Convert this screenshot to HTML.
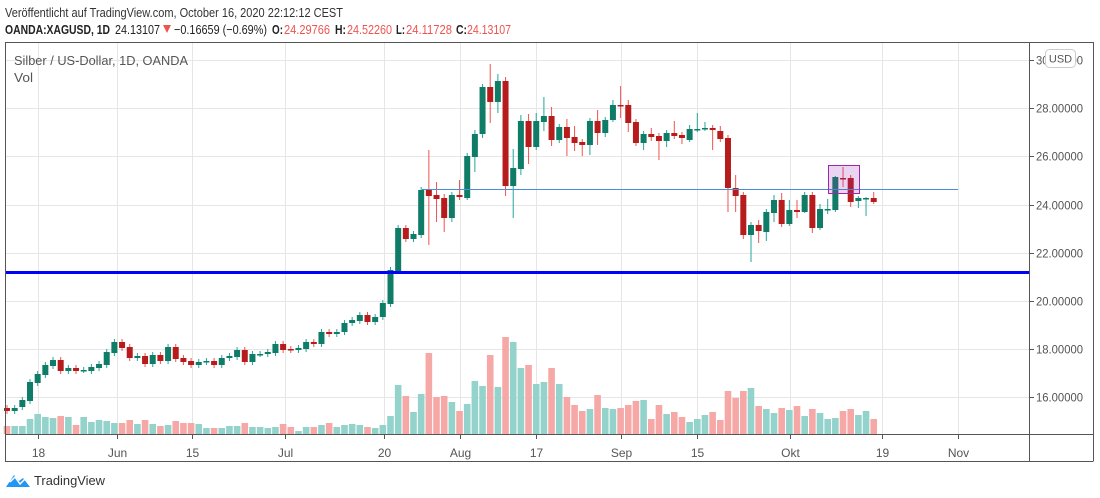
<!DOCTYPE html>
<html><head><meta charset="utf-8">
<style>
html,body{margin:0;padding:0;background:#fff;width:1100px;height:498px;overflow:hidden}
svg{display:block;font-family:"Liberation Sans",sans-serif}
</style></head>
<body>
<svg id="s" width="1100" height="498" viewBox="0 0 1100 498" xmlns="http://www.w3.org/2000/svg">
<rect width="1100" height="498" fill="#fff"/>
<g id="grid" stroke="#e6e6e6" stroke-width="1"></g>
<g id="vol"></g>
<g id="candles"></g>
<line x1="422" y1="189.5" x2="958" y2="189.5" stroke="#4a8fd8" stroke-width="1"/>
<line x1="5" y1="272.5" x2="1029" y2="272.5" stroke="#0000ff" stroke-width="3"/>
<rect x="828.5" y="165.5" width="31" height="28" fill="rgba(156,39,176,0.2)" stroke="#9c27b0" stroke-width="1"/>
<g stroke="#555" stroke-width="1" fill="none">
<line x1="5.5" y1="42" x2="5.5" y2="461.5"/>
<line x1="5" y1="42.5" x2="1093" y2="42.5"/>
<line x1="1029.5" y1="42" x2="1029.5" y2="461.5"/>
<line x1="1093.5" y1="42" x2="1093.5" y2="461.5"/>
<line x1="5" y1="434.5" x2="1093" y2="434.5"/>
<line x1="5" y1="461.5" x2="1093" y2="461.5"/>
</g>
<g id="axis" font-size="12" fill="#555"></g>
<text x="14" y="65" font-size="13" fill="#555" textLength="174" lengthAdjust="spacingAndGlyphs">Silber / US-Dollar, 1D, OANDA</text>
<text x="14" y="82" font-size="13" fill="#555" textLength="19" lengthAdjust="spacingAndGlyphs">Vol</text>
<rect x="1045.5" y="49.5" width="30" height="18" rx="4" fill="#fff" stroke="#ccc"/>
<text x="1060.5" y="62.5" font-size="11" fill="#555" text-anchor="middle">USD</text>
<text x="5" y="17" font-size="13" fill="#333" textLength="338" lengthAdjust="spacingAndGlyphs">Veröffentlicht auf TradingView.com, October 16, 2020 22:12:12 CEST</text>
<g font-size="13">
<text x="5" y="34" font-weight="bold" fill="#222" textLength="105" lengthAdjust="spacingAndGlyphs">OANDA:XAGUSD, 1D</text>
<text x="115" y="34" fill="#222" textLength="45" lengthAdjust="spacingAndGlyphs">24.13107</text>
<polygon points="163,25 171,25 167,33" fill="#ef5350"/>
<text x="174" y="34" fill="#222" textLength="93" lengthAdjust="spacingAndGlyphs">−0.16659 (−0.69%)</text>
<text x="272" y="34" font-weight="bold" fill="#222" textLength="11" lengthAdjust="spacingAndGlyphs">O:</text>
<text x="284" y="34" fill="#ef5350" textLength="46" lengthAdjust="spacingAndGlyphs">24.29766</text>
<text x="335" y="34" font-weight="bold" fill="#222" textLength="11" lengthAdjust="spacingAndGlyphs">H:</text>
<text x="347" y="34" fill="#ef5350" textLength="45" lengthAdjust="spacingAndGlyphs">24.52260</text>
<text x="396" y="34" font-weight="bold" fill="#222" textLength="9" lengthAdjust="spacingAndGlyphs">L:</text>
<text x="406" y="34" fill="#ef5350" textLength="46" lengthAdjust="spacingAndGlyphs">24.11728</text>
<text x="456" y="34" font-weight="bold" fill="#222" textLength="11" lengthAdjust="spacingAndGlyphs">C:</text>
<text x="467" y="34" fill="#ef5350" textLength="44" lengthAdjust="spacingAndGlyphs">24.13107</text>
</g>
<path d="M6,487 L14,475 L19,481 L23,478 L30,487 Z" fill="#2196f3"/>
<path d="M10,482 L15,477 L20,484 L25,479" stroke="#fff" stroke-width="1.5" fill="none"/>
<text x="34" y="485" font-size="13" fill="#333" textLength="71" lengthAdjust="spacingAndGlyphs">TradingView</text>
</svg>
<script>
(function(){
var NS="http://www.w3.org/2000/svg";
function el(p,t,a){var e=document.createElementNS(NS,t);for(var k in a)e.setAttribute(k,a[k]);p.appendChild(e);return e;}
var grid=document.getElementById('grid'),vol=document.getElementById('vol'),cg=document.getElementById('candles'),ax=document.getElementById('axis');
var xt=[[38,'18'],[117,'Jun'],[192,'15'],[285,'Jul'],[384,'20'],[460,'Aug'],[536,'17'],[621,'Sep'],[697,'15'],[790,'Okt'],[882,'19'],[958,'Nov']];
xt.forEach(function(t){el(grid,'line',{x1:t[0]+.5,y1:43,x2:t[0]+.5,y2:434});
el(ax,'line',{x1:t[0]+.5,y1:435,x2:t[0]+.5,y2:439,stroke:'#555'});
var tx=el(ax,'text',{x:t[0]+.5,y:457,'text-anchor':'middle'});tx.textContent=t[1];});
var yt=[[60,'30.00000'],[108,'28.00000'],[156,'26.00000'],[205,'24.00000'],[253,'22.00000'],[301,'20.00000'],[349,'18.00000'],[397,'16.00000']];
yt.forEach(function(t){el(grid,'line',{x1:6,y1:t[0]+.5,x2:1029,y2:t[0]+.5});
el(ax,'line',{x1:1030,y1:t[0]+.5,x2:1034,y2:t[0]+.5,stroke:'#555'});
var tx=el(ax,'text',{x:1036,y:t[0]+4.5,textLength:47,lengthAdjust:'spacingAndGlyphs'});tx.textContent=t[1];});
var C=[[408,411],[411,408],[407,400],[401,382],[383,374],[375,365],[366,360],[360,371],[371,368],[368,371],[370,370],[371,367],[368,364],[365,352],[353,342],[342,348],[347,358],[358,356],[356,364],[364,355],[355,361],[361,347],[347,359],[358,362],[361,365],[365,362],[362,361],[361,365],[365,358],[358,356],[357,350],[350,362],[362,354],[354,354],[354,352],[353,344],[344,350],[349,350],[350,348],[349,342],[342,344],[344,332],[332,334],[334,332],[332,323],[323,320],[321,315],[315,322],[322,317],[317,303],[304,270],
[271,228],[228,239],[239,234],[235,190],[190,196,150,245],[195,199,182,222],[198,218,194,232],[218,195,192,222],[195,197,180,200],[198,156,153,200],[157,134,130,172],[134,87,84,138],[87,102,64,123],[102,81,74,113],[81,186,77,196],[186,168,149,218],[169,121,115,175],[121,147,114,164],[147,121,113,150],[122,116,97,131],[116,140,107,146],[140,127,124,143],[127,138,119,156],[137,143,126,151],[142,145,139,156],[145,121,118,155],[121,133,110,145],[133,120,117,137],[120,105,100,122],[105,105,86,118],[105,123,100,132],[122,143,119,146],[143,134,131,150],[134,137,128,141],[136,141,133,160],[141,133,130,147],[133,136,121,139],[135,138,132,144],[140,129,125,142],[129,129,113,132],[128,128,122,131],[128,130,125,150],[131,139,126,142],[138,188,135,212],[188,196,175,212],[195,235,192,239],[235,225,222,262],[225,231,220,243],[232,212,209,241],[213,200,195,222],[200,224,193,227],[224,210,200,226],[210,212,200,218],[212,195,192,213],[195,228,192,233],[228,209,204,230],[210,209,199,214],[210,177,176,212],[178,179,167,187],[178,202,175,207],[201,198,196,208],[198,198,197,216],[198,202,192,204]];
var V=[426,426,426,419,414,417,418,416,417,425,417,422,420,421,423,423,420,424,420,424,426,425,421,423,423,424,428,428,428,426,426,423,427,427,428,427,424,427,431,427,427,425,423,427,425,424,425,427,428,425,416,
385,396,412,394,353,397,396,402,411,404,381,386,355,387,337,342,368,365,384,382,368,384,397,405,411,409,395,408,409,408,405,401,400,419,405,414,412,417,422,419,415,412,420,391,398,391,388,406,409,413,408,410,406,416,409,413,419,418,411,409,415,411,419];
for(var i=0;i<C.length;i++){
var c=C[i],x=7+7.67*i,o=c[0],cl=c[1];
var up=cl<=o; if(i==80)up=false;
var bt=Math.min(o,cl),bb=Math.max(o,cl);
var hi=(c.length>2)?c[2]:bt-3,lo=(c.length>3)?c[3]:bb+3;
var body=up?'#0e7c66':'#b71c1c',wick=up?'#26a69a':'#ef5350';
el(cg,'line',{x1:x,y1:hi,x2:x,y2:lo,stroke:wick,'stroke-width':1});
el(cg,'rect',{x:x-3,y:bt,width:6,height:Math.max(bb-bt,1.5),fill:body});
var vy=V[i];
el(vol,'rect',{x:x-3.3,y:vy,width:6.6,height:434-vy,fill:up?'#93d3cc':'#f6a8a6'});
}
})();
</script>
</body></html>
